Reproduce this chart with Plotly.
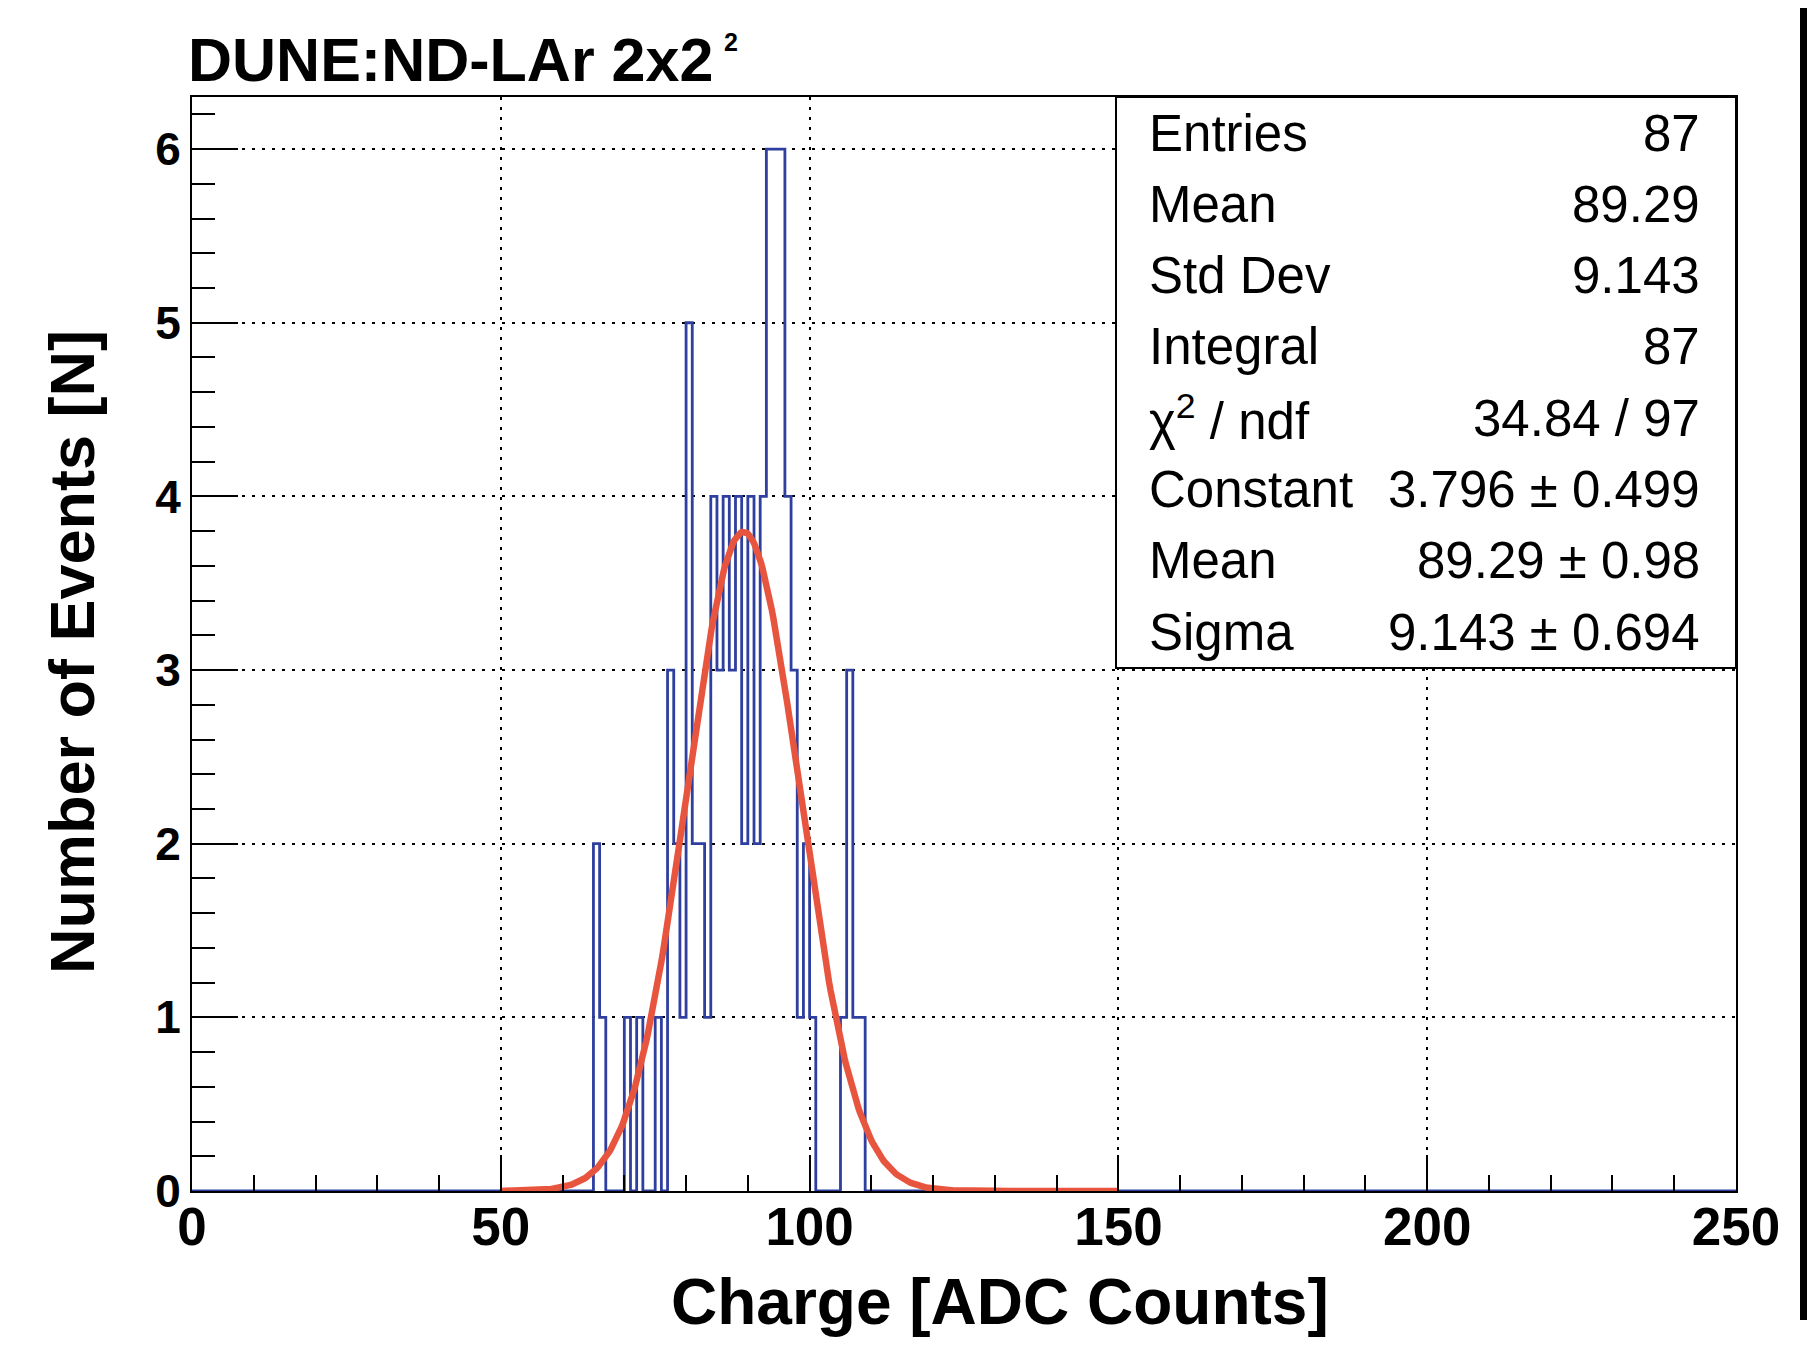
import numpy as np
import plotly.graph_objects as go

# ---- data ----
bin_low = [65, 66, 70, 72, 75, 77, 78, 79, 80, 81, 82, 83, 84, 85, 86, 87, 88, 89,
           90, 91, 92, 93, 94, 95, 96, 97, 98, 99, 100, 105, 106, 107, 108]
counts = [2, 1, 1, 1, 1, 3, 2, 1, 5, 2, 2, 1, 4, 3, 4, 3, 4, 2,
          4, 2, 4, 6, 6, 6, 4, 3, 1, 2, 1, 1, 3, 1, 1]
n_bins = 250
x_min, x_max = 0, 250
fit_const, fit_mean, fit_sigma = 3.796, 89.29, 9.143
fit_range = (50, 150)

stat_labels = ["Entries", "Mean", "Std Dev", "Integral", "χ<sup>2</sup> / ndf",
               "Constant", "Mean", "Sigma"]
stat_values = ["87", "89.29", "9.143", "87", "34.84 / 97",
               "3.796 ± 0.499", "89.29 ± 0.98", "9.143 ± 0.694"]

title_text = "DUNE:ND-LAr 2x2"
x_title = "Charge [ADC Counts]"
y_title = "Number of Events [N]"

# ---- geometry (reference page pixels) ----
OFF = 8  # page body margin
W, H = 1815 - OFF, 1349 - OFF
L, R, T, B = 192, 1736, 97, 1191
def px(x): return (x - L) / (R - L)
def py(y): return (B - y) / (B - T)

FONT = "Liberation Sans, Arial, Helvetica, sans-serif"

hist = np.zeros(n_bins)
hist[np.array(bin_low)] = counts
edges = np.linspace(x_min, x_max, n_bins + 1)
ystep = np.append(hist, hist[-1])

xf = np.linspace(fit_range[0], fit_range[1], 400)
yf = fit_const * np.exp(-0.5 * ((xf - fit_mean) / fit_sigma) ** 2)

fig = go.Figure()
fig.add_trace(go.Scatter(x=edges, y=ystep, mode="lines", line_shape="hv",
                         line=dict(color="#2f3f9f", width=2.8), hoverinfo="skip"))
fig.add_trace(go.Scatter(x=xf, y=yf, mode="lines",
                         line=dict(color="#e8553e", width=6.5), hoverinfo="skip"))

fig.update_layout(
    width=W, height=H,
    margin=dict(l=L - OFF, r=W - (R - OFF), t=T - OFF, b=H - (B - OFF), pad=0),
    paper_bgcolor="white", plot_bgcolor="white",
    showlegend=False,
    font=dict(family=FONT, color="black"),
)
fig.update_xaxes(
    range=[x_min, x_max], tickvals=[0, 50, 100, 150, 200, 250],
    ticks="inside", ticklen=36, tickwidth=2, tickcolor="black",
    minor=dict(dtick=10, tick0=0, ticks="inside", ticklen=16, tickwidth=2, tickcolor="black"),
    showline=True, linecolor="black", linewidth=2, mirror=True,
    showgrid=True, gridcolor="black", gridwidth=2, griddash="3px,7px",
    tickfont=dict(size=53, family=FONT, weight="bold"),
    zeroline=False, ticklabelstandoff=-12,
)
fig.update_yaxes(
    range=[0, 6.3], tickvals=[0, 1, 2, 3, 4, 5, 6],
    ticks="inside", ticklen=46, tickwidth=2, tickcolor="black",
    minor=dict(dtick=0.2, tick0=0, ticks="inside", ticklen=23, tickwidth=2, tickcolor="black"),
    showline=True, linecolor="black", linewidth=2, mirror=True,
    showgrid=True, gridcolor="black", gridwidth=2, griddash="3px,7px",
    tickfont=dict(size=46, family=FONT, weight="bold"),
    zeroline=False, ticklabelstandoff=0,
)

shapes = [
    dict(type="rect", xref="paper", yref="paper", x0=px(1116), x1=1.0, y0=py(668), y1=1.0,
         fillcolor="white", line=dict(color="black", width=2), layer="above"),
    dict(type="rect", xref="paper", yref="paper", x0=px(1800), x1=px(1816), y0=py(1320), y1=py(0),
         fillcolor="black", line=dict(width=0), layer="above"),
]
fig.update_layout(shapes=shapes)

ann = []
row0, drow = 133, 71.3
for i, (lab, val) in enumerate(zip(stat_labels, stat_values)):
    yc = py(row0 + i * drow)
    ann.append(dict(text=lab, xref="paper", yref="paper", x=px(1147), y=yc,
                    xanchor="left", yanchor="middle", showarrow=False,
                    font=dict(size=51, family=FONT, color="black")))
    ann.append(dict(text=val, xref="paper", yref="paper", x=px(1702), y=yc,
                    xanchor="right", yanchor="middle", showarrow=False,
                    font=dict(size=51, family=FONT, color="black")))

ann.append(dict(text="<b>" + title_text + "</b>", xref="paper", yref="paper",
                x=px(186), y=py(60), xanchor="left", yanchor="middle", showarrow=False,
                font=dict(size=61, family=FONT, color="black")))
ann.append(dict(text="<b>2</b>", xref="paper", yref="paper",
                x=px(731), y=py(42), xanchor="center", yanchor="middle", showarrow=False,
                font=dict(size=25, family=FONT, color="black")))
ann.append(dict(text="<b>" + x_title + "</b>", xref="paper", yref="paper",
                x=px(1000), y=py(1302), xanchor="center", yanchor="middle", showarrow=False,
                font=dict(size=64, family=FONT, color="black")))
ann.append(dict(text="<b>" + y_title + "</b>", xref="paper", yref="paper",
                x=px(72), y=py(652), xanchor="center", yanchor="middle", showarrow=False,
                textangle=-90, font=dict(size=63, family=FONT, color="black")))
fig.update_layout(annotations=ann)

fig.write_html("out.html")
